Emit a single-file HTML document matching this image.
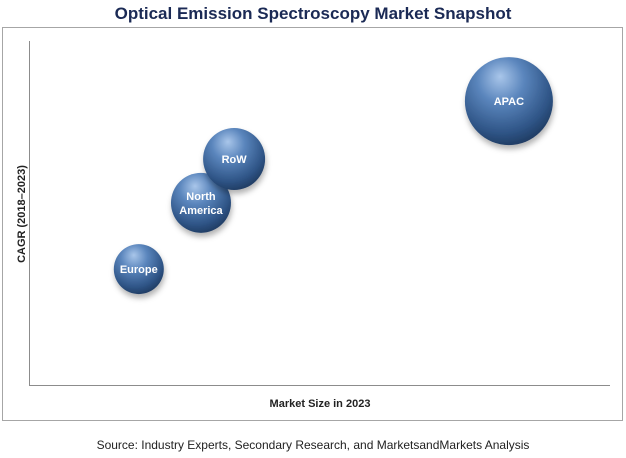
<!DOCTYPE html>
<html><head><meta charset="utf-8"><style>
body{margin:0;background:#fff;width:626px;height:458px;overflow:hidden}
svg{display:block;font-family:"Liberation Sans",sans-serif}
</style></head><body>
<svg width="626" height="458">
<defs>
<radialGradient id="ball" cx="0.42" cy="0.32" r="0.75" fx="0.40" fy="0.22">
<stop offset="0" stop-color="#a9c6ea"/>
<stop offset="0.35" stop-color="#5b86bd"/>
<stop offset="0.75" stop-color="#2f5587"/>
<stop offset="1" stop-color="#1b3457"/>
</radialGradient>
<filter id="sh" x="-30%" y="-30%" width="160%" height="170%"><feDropShadow dx="1" dy="4" stdDeviation="3" flood-color="#000" flood-opacity="0.3"/></filter>
</defs>
<text x="313" y="19" text-anchor="middle" font-size="17" font-weight="bold" fill="#1b2a55">Optical Emission Spectroscopy Market Snapshot</text>
<rect x="2.5" y="27.5" width="620" height="393" fill="none" stroke="#a6a6a6"/>
<line x1="29.5" y1="41" x2="29.5" y2="386" stroke="#8c8c8c"/>
<line x1="29" y1="385.5" x2="610" y2="385.5" stroke="#8c8c8c"/>
<text transform="translate(25,214) rotate(-90)" text-anchor="middle" font-size="11" font-weight="bold" fill="#222">CAGR (2018–2023)</text>
<text x="320" y="407" text-anchor="middle" font-size="11" font-weight="bold" fill="#222">Market Size in 2023</text>
<text x="313" y="449" text-anchor="middle" font-size="12" fill="#222">Source: Industry Experts, Secondary Research, and MarketsandMarkets Analysis</text>
<g id="bubbles"></g>
</svg>
<script>
const regions = ["Europe","North America","RoW","APAC"];
const marketSize = [18.9, 29.6, 35.3, 82.6];
const cagr = [33.6, 52.8, 65.5, 82.3];
const bubbleSize = [25, 30, 31, 44];
const X0=29,X1=610,Y0=385,Y1=40;
function xs(v){return X0+(X1-X0)*v/100;}
function ys(v){return Y0-(Y0-Y1)*v/100;}
function rs(v){return v;}
const g=document.getElementById('bubbles');
const NS='http://www.w3.org/2000/svg';
regions.forEach((name,i)=>{
  const cx=xs(marketSize[i]),cy=ys(cagr[i]),r=rs(bubbleSize[i]);
  const c=document.createElementNS(NS,'circle');
  c.setAttribute('cx',cx);c.setAttribute('cy',cy);c.setAttribute('r',r);
  c.setAttribute('fill','url(#ball)');c.setAttribute('filter','url(#sh)');
  
  
  g.appendChild(c);
  const parts=name.split(' ');
  const t=document.createElementNS(NS,'text');
  t.setAttribute('x',cx);t.setAttribute('text-anchor','middle');
  t.setAttribute('font-size','11');t.setAttribute('font-weight','bold');t.setAttribute('fill','#fff');
  
  
  parts.forEach((p,j)=>{
    const ts=document.createElementNS(NS,'tspan');
    ts.setAttribute('x',cx);
    ts.setAttribute('y',cy+4+(j-(parts.length-1)/2)*14);
    ts.textContent=p;t.appendChild(ts);
  });
  g.appendChild(t);
});
</script>
</body></html>
